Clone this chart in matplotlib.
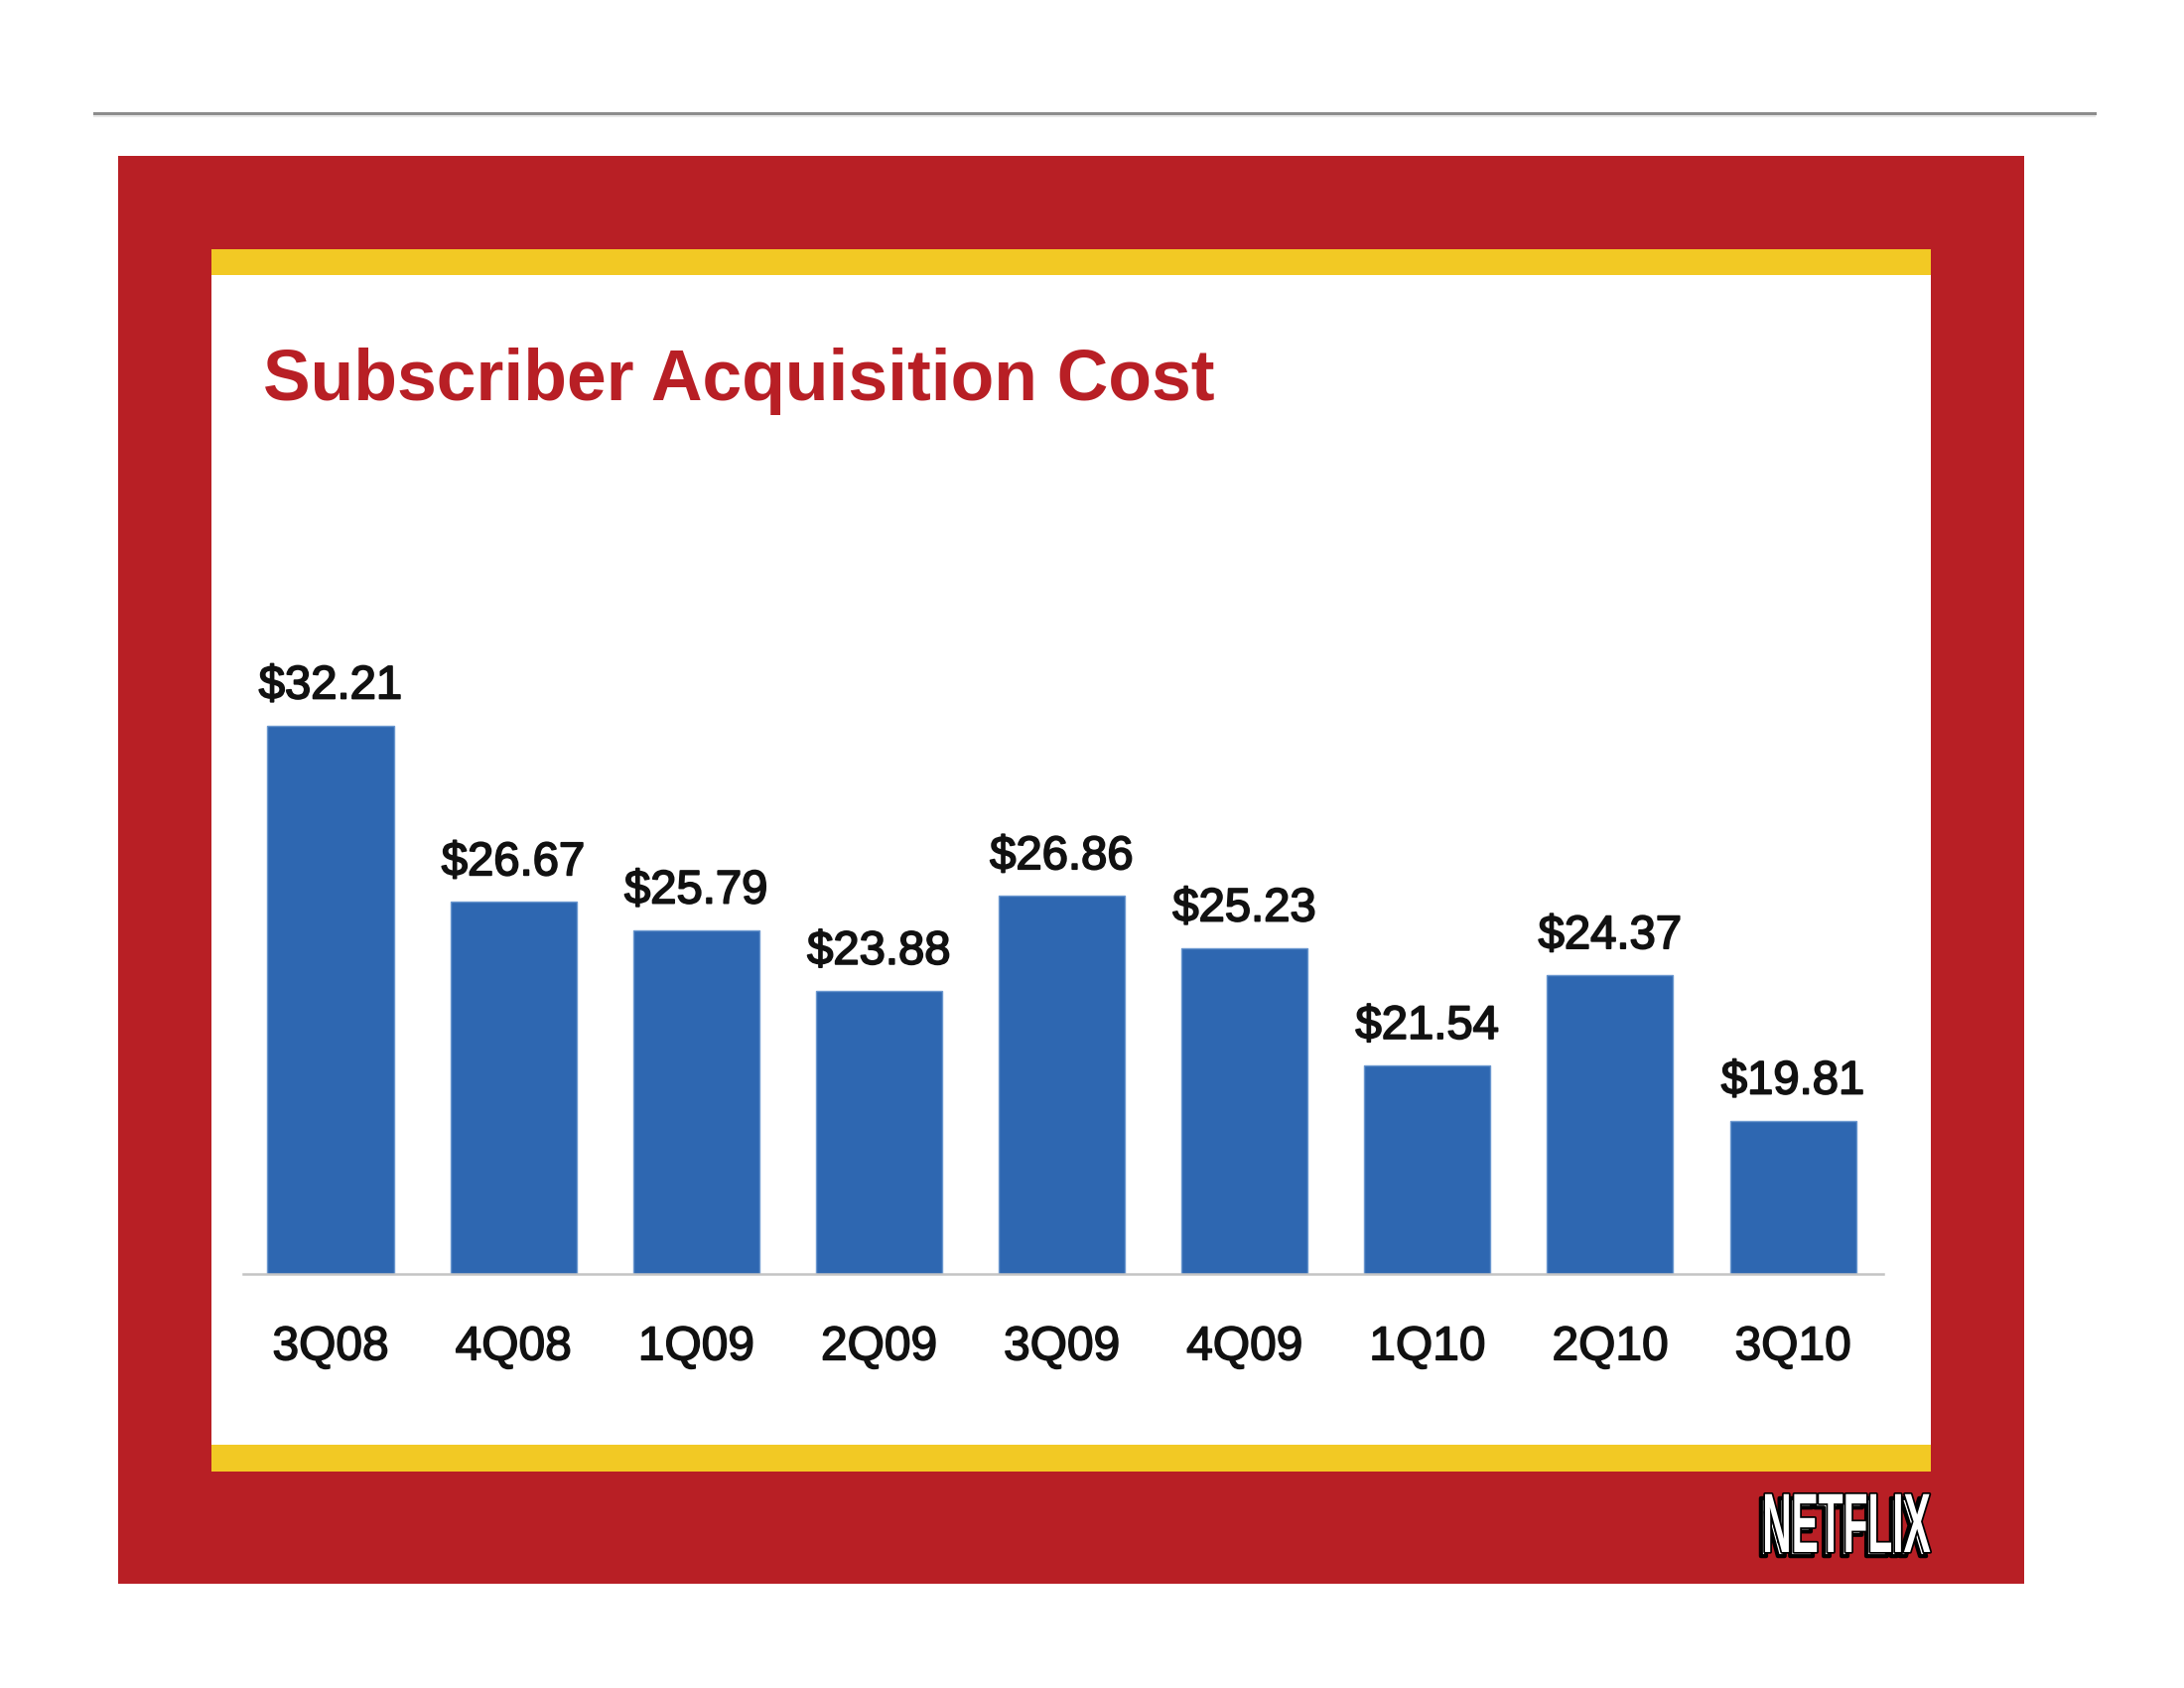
import matplotlib
matplotlib.use("Agg")
import matplotlib.pyplot as plt
from matplotlib.patches import Rectangle
from matplotlib.transforms import Affine2D
import matplotlib.patheffects as pe

categories = ["3Q08", "4Q08", "1Q09", "2Q09", "3Q09", "4Q09", "1Q10", "2Q10", "3Q10"]
values = [32.21, 26.67, 25.79, 23.88, 26.86, 25.23, 21.54, 24.37, 19.81]
value_labels = ["$32.21", "$26.67", "$25.79", "$23.88", "$26.86", "$25.23", "$21.54", "$24.37", "$19.81"]
title = "Subscriber Acquisition Cost"

W, H = 2200, 1700
DPI = 100
RED = "#B81F25"
YELLOW = "#F2C924"
BLUE = "#2E67B1"

plt.rcParams['font.family'] = ['Liberation Sans', 'DejaVu Sans']

fig = plt.figure(figsize=(W / DPI, H / DPI), dpi=DPI)
fig.patch.set_facecolor("white")


def frect(x0, y0, x1, y1, color, z=-5):
    # pixel coords with top-left origin -> figure fraction
    r = Rectangle((x0 / W, 1 - y1 / H), (x1 - x0) / W, (y1 - y0) / H,
                  transform=fig.transFigure, facecolor=color,
                  edgecolor="none", zorder=z)
    fig.add_artist(r)


# thin gray rule at top
fig.add_artist(plt.Line2D([95 / W, 2110 / W], [1 - 113.5 / H, 1 - 113.5 / H],
                          transform=fig.transFigure, color="#8C8C8C", lw=2.2, zorder=-5))
fig.add_artist(plt.Line2D([95 / W, 2110 / W], [1 - 116.5 / H, 1 - 116.5 / H],
                          transform=fig.transFigure, color="#E8E8E8", lw=1.5, zorder=-5))

# red frame, yellow bands, white panel
frect(119, 157, 2039, 1595, RED, -5)
frect(213, 251, 1945, 1482, YELLOW, -4)
frect(213, 277, 1945, 1455, "white", -3)

# title
fig.text(265 / W, 1 - 403 / H, title, color=RED, fontsize=51.5, fontweight="bold",
         ha="left", va="baseline")

# chart axes
ax_left, ax_right, ax_bottom, ax_top = 245, 1897, 1283, 480.5
ax = fig.add_axes([ax_left / W, 1 - ax_bottom / H, (ax_right - ax_left) / W,
                   (ax_bottom - ax_top) / H])
ax.set_facecolor("none")
x = list(range(len(categories)))
ax.bar(x, values, width=0.69, color=BLUE, edgecolor="#6A97CF", linewidth=1.0, zorder=2)
ax.set_ylim(15, 40)
ax.set_xlim(-0.478, 8.494)
for s in ["top", "right", "left"]:
    ax.spines[s].set_visible(False)
ax.spines["bottom"].set_color("#C4C4C4")
ax.spines["bottom"].set_linewidth(1.8)
ax.spines["bottom"].set_zorder(3)
ax.set_yticks([])
ax.set_xticks(x)
ax.set_xticklabels(categories, fontsize=34.5, color="#111111")
ax.tick_params(axis="x", length=0, pad=37)
for t in ax.get_xticklabels():
    t.set_path_effects([pe.withStroke(linewidth=1.1, foreground="#111111")])

for xi, v, lab in zip(x, values, value_labels):
    ax.annotate(lab, (xi, v), xytext=(0, 19.5), textcoords="offset points",
                ha="center", va="baseline", fontsize=34, color="#111111",
                path_effects=[pe.withStroke(linewidth=1.3, foreground="#111111")])


# Netflix wordmark: real text, horizontally condensed by a path effect
LOGO_CX = 1860
SQUEEZE = Affine2D().translate(-LOGO_CX, 0).scale(0.48, 1).translate(LOGO_CX, 0)


class SqStroke(pe.Stroke):
    def draw_path(self, renderer, gc, tpath, affine, rgbFace):
        super().draw_path(renderer, gc, tpath, affine + SQUEEZE, rgbFace)


class SqNormal(pe.AbstractPathEffect):
    def draw_path(self, renderer, gc, tpath, affine, rgbFace):
        renderer.draw_path(gc, tpath, affine + SQUEEZE, rgbFace)


fig.text(LOGO_CX / W, 1 - 1541 / H, "NETFLIX", ha="center", va="center",
         fontsize=61, fontweight="bold", color="white",
         path_effects=[SqStroke(linewidth=3, foreground="black", offset=(-3, -3)),
                       SqStroke(linewidth=2.5, foreground="black"),
                       SqNormal()])

fig.savefig("out.png", dpi=DPI, facecolor="white")
